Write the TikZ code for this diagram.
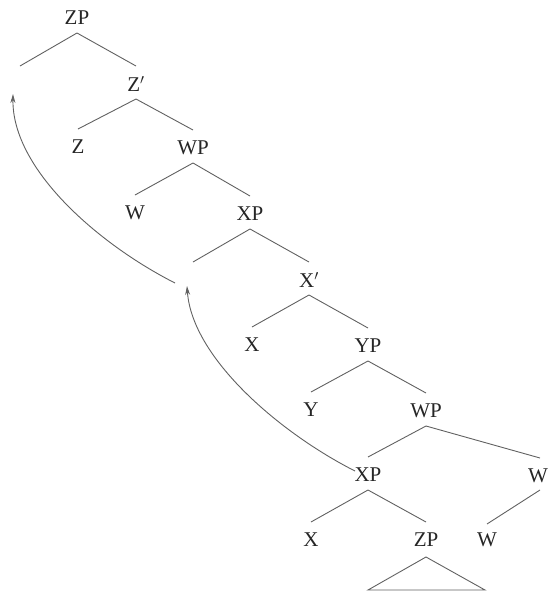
\documentclass[tikz,border=0pt]{standalone}
\usepackage{fontspec}
\setmainfont{Liberation Serif}
\usetikzlibrary{arrows.meta}
\begin{document}
\begin{tikzpicture}[x=1pt,y=-1pt,
  lbl/.style={inner sep=0pt,text=black!85,font=\fontsize{21}{23}\selectfont},
  br/.style={draw=black!62,line width=0.9pt},
  mv/.style={draw=black!62,line width=0.9pt,-{Stealth[length=9pt,width=5pt]}}]
\useasboundingbox (0,0) rectangle (549,592);
\node[lbl] (zp1) at (77,18) {ZP};
\coordinate (s1) at (20,66);
\node[lbl] (zb) at (136,84) {Z$'$};
\node[lbl] (z) at (78,147) {Z};
\node[lbl] (wp1) at (193,148) {WP};
\node[lbl] (w1) at (135,213) {W};
\node[lbl] (xp1) at (250,214) {XP};
\coordinate (s2) at (193,262);
\node[lbl] (xb) at (309,280) {X$'$};
\node[lbl] (x1) at (252,345) {X};
\node[lbl] (yp) at (368,346) {YP};
\node[lbl] (y) at (311,410) {Y};
\node[lbl] (wp2) at (426,411) {WP};
\node[lbl] (xp2) at (368,475) {XP};
\node[lbl] (w2) at (538,476) {W};
\node[lbl] (x2) at (311,540) {X};
\node[lbl] (zp2) at (426,540) {ZP};
\node[lbl] (w3) at (487,540) {W};
\coordinate (tl) at (368,590);
\coordinate (tr) at (485,590);
% branches
\draw[br] ([yshift=-15pt]zp1.center) -- (s1);
\draw[br] ([yshift=-15pt]zp1.center) -- ([yshift=18pt]zb.center);
\draw[br] ([yshift=-15pt]zb.center) -- ([yshift=18pt]z.center);
\draw[br] ([yshift=-15pt]zb.center) -- ([yshift=18pt]wp1.center);
\draw[br] ([yshift=-15pt]wp1.center) -- ([yshift=18pt]w1.center);
\draw[br] ([yshift=-15pt]wp1.center) -- ([yshift=18pt]xp1.center);
\draw[br] ([yshift=-15pt]xp1.center) -- (s2);
\draw[br] ([yshift=-15pt]xp1.center) -- ([yshift=18pt]xb.center);
\draw[br] ([yshift=-15pt]xb.center) -- ([yshift=18pt]x1.center);
\draw[br] ([yshift=-15pt]xb.center) -- ([yshift=18pt]yp.center);
\draw[br] ([yshift=-15pt]yp.center) -- ([yshift=18pt]y.center);
\draw[br] ([yshift=-15pt]yp.center) -- ([yshift=18pt]wp2.center);
\draw[br] ([yshift=-15pt]wp2.center) -- ([yshift=18pt]xp2.center);
\draw[br] ([yshift=-15pt]wp2.center) -- ([xshift=2pt,yshift=18pt]w2.center);
\draw[br] ([yshift=-15pt]xp2.center) -- ([yshift=18pt]x2.center);
\draw[br] ([yshift=-15pt]xp2.center) -- ([yshift=18pt]zp2.center);
\draw[br] ([xshift=2pt,yshift=-14pt]w2.center) -- ([yshift=16pt]w3.center);
\draw[br] ([yshift=-17pt]zp2.center) -- (tl) -- (tr) -- cycle;
% movement arrows
\coordinate (a1s) at (355,471);
\coordinate (a1e) at (187,286);
\coordinate (a2s) at (175,283);
\coordinate (a2e) at (13,94);
\draw[mv] (a1s) .. controls (280,433) and (192,358) .. (a1e);
\draw[mv] (a2s) .. controls (100,245) and (12,170) .. (a2e);
\end{tikzpicture}
\end{document}
